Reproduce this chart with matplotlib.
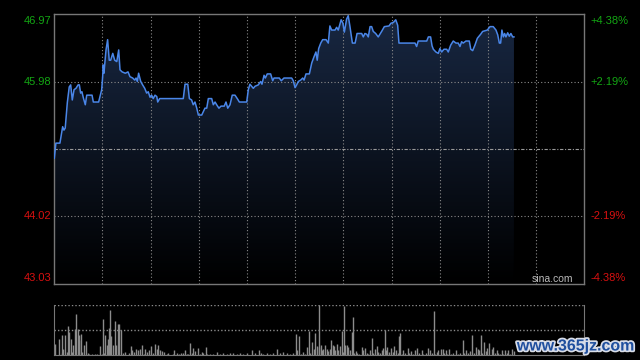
import numpy as np
import matplotlib.pyplot as plt
import matplotlib.patheffects as pe

# ---------------- DATA ----------------
prev_close = 45.00
y_low, y_high = 43.03, 46.97
session_minutes = 330

price_minute = [
    0, 1, 3.5, 5.2, 6.0, 6.8, 8.1, 9.3, 10.2, 11.2, 12.3, 13.5, 14.8, 15.6, 16.4, 17.2,
    18.1, 19.3, 20.2, 22.2, 23.5, 24.3, 27.6, 29.5, 30.1, 30.5, 30.9, 32.2, 33.2, 34.2,
    35.1, 36.4, 37.6, 38.9, 40.1, 40.9, 42.2, 44.2, 45.9, 47.1, 48.8, 50.1, 50.9, 51.7,
    52.5, 53.8, 55.0, 56.3, 57.5, 58.5, 59.6, 60.6, 61.6, 62.7, 63.8, 64.4, 65.6, 80.3,
    81.4, 83.1, 84.1, 85.5, 86.5, 87.6, 88.7, 89.7, 91.8, 93.8, 94.9, 95.9, 98.0, 99.0,
    100.1, 101.1, 102.5, 103.8, 105.8, 106.9, 108.0, 109.4, 110.8, 112.5, 114.2, 115.2,
    118.7, 119.8, 120.8, 121.8, 123.9, 125.0, 127.0, 128.5, 129.3, 130.6, 131.4, 132.6,
    134.7, 136.0, 136.8, 140.1, 141.3, 143.0, 147.8, 148.8, 149.9, 150.9, 151.9, 153.4,
    154.7, 155.5, 156.7, 158.8, 160.3, 161.7, 162.9, 163.7, 164.6, 165.9, 167.1, 169.2,
    170.6, 171.6, 172.7, 174.8, 175.8, 176.8, 178.6, 179.7, 180.6, 182.0, 183.0, 184.1,
    185.6, 187.3, 188.5, 191.4, 192.4, 193.4, 194.5, 195.5, 196.6, 197.6, 198.6, 200.1,
    201.7, 203.8, 205.5, 208.4, 209.6, 211.1, 212.6, 213.8, 214.6, 224.6, 225.6, 226.6,
    231.9, 232.9, 234.3, 235.2, 236.0, 237.6, 239.1, 240.1, 241.2, 242.6, 244.3, 245.3,
    246.8, 248.4, 250.1, 251.5, 252.6, 253.6, 254.6, 256.3, 258.4, 259.3, 260.5, 261.9,
    263.4, 265.5, 266.7, 269.6, 271.3, 273.3, 275.0, 276.1, 277.1, 277.9, 278.7, 279.6,
    280.4, 281.2, 282.3, 283.3, 284.3, 285.4, 286.2,
]
price = [
    44.87, 45.09, 45.09, 45.33, 45.28, 45.31, 45.68, 45.91, 45.94, 45.72, 45.87, 45.89, 45.94, 45.94, 45.82, 45.84,
    45.75, 45.65, 45.79, 45.79, 45.79, 45.69, 45.69, 45.87, 46.06, 46.23, 46.11, 46.45, 46.60, 46.30,
    46.30, 46.40, 46.30, 46.28, 46.45, 46.16, 46.13, 46.11, 46.13, 46.06, 46.04, 46.01, 46.04, 45.99,
    46.11, 45.99, 45.94, 45.89, 45.82, 45.84, 45.76, 45.79, 45.74, 45.79, 45.77, 45.69, 45.74, 45.74,
    45.95, 45.95, 45.74, 45.72, 45.65, 45.69, 45.60, 45.50, 45.50, 45.60, 45.60, 45.74, 45.74, 45.65,
    45.69, 45.65, 45.60, 45.63, 45.63, 45.69, 45.60, 45.65, 45.79, 45.79, 45.73, 45.69,
    45.69, 45.69, 45.87, 45.95, 45.89, 45.92, 45.94, 45.99, 45.95, 46.08, 46.04, 46.10,
    46.10, 46.00, 46.04, 46.04, 46.00, 46.04, 46.04, 46.00, 45.90, 45.94, 45.99, 46.01,
    46.04, 46.01, 46.10, 46.10, 46.26, 46.35, 46.42, 46.30, 46.47, 46.55, 46.60, 46.60,
    46.55, 46.80, 46.74, 46.74, 46.78, 46.74, 46.89, 46.84, 46.71, 46.90, 46.95, 46.79,
    46.55, 46.55, 46.69, 46.69, 46.64, 46.69, 46.68, 46.64, 46.79, 46.79, 46.72, 46.69,
    46.64, 46.72, 46.79, 46.80, 46.84, 46.85, 46.89, 46.81, 46.55, 46.55, 46.50, 46.58,
    46.58, 46.64, 46.64, 46.51, 46.46, 46.42, 46.40, 46.47, 46.42, 46.46, 46.46, 46.42,
    46.52, 46.58, 46.55, 46.55, 46.50, 46.57, 46.55, 46.58, 46.58, 46.46, 46.44, 46.52,
    46.62, 46.68, 46.72, 46.74, 46.79, 46.79, 46.74, 46.67, 46.55, 46.55, 46.74, 46.64,
    46.69, 46.64, 46.70, 46.65, 46.69, 46.64, 46.64,
]

vol_minute = [
    0.4, 3.1, 4.6, 5.0, 5.6, 6.9, 7.7, 8.7, 9.4, 10.2, 11.0, 11.9, 13.1, 13.7, 14.6, 15.2,
    15.6, 16.6, 17.5, 18.7, 19.9, 20.8, 21.8, 23.3, 24.3, 25.3, 26.4, 28.5, 29.5, 30.5,
    31.2, 31.8, 32.6, 33.2, 33.9, 34.7, 35.3, 36.6, 38.0, 38.6, 39.9, 40.5, 41.7, 43.0,
    44.0, 45.1, 46.3, 47.8, 48.6, 49.8, 50.9, 52.1, 53.4, 54.6, 55.9, 56.7, 57.9, 59.2,
    60.2, 61.7, 62.9, 63.7, 64.8, 65.8, 67.1, 68.3, 70.0, 71.0, 72.5, 73.7, 74.7, 76.2,
    77.4, 78.7, 79.9, 81.4, 82.4, 83.5, 84.5, 85.5, 86.6, 87.8, 89.7, 90.7, 91.8, 92.8,
    94.5, 95.3, 96.9, 99.0, 101.5, 103.2, 105.2, 107.3, 109.4, 111.5, 113.5, 115.6,
    117.7, 119.8, 122.9, 125.0, 127.6, 128.5, 130.1, 132.2, 134.3, 136.4, 138.4, 140.5,
    142.6, 144.7, 146.7, 148.8, 150.5, 151.3, 152.6, 153.6, 154.6, 156.3, 157.5, 158.4,
    159.2, 160.7, 161.7, 162.5, 163.3, 164.6, 165.0, 165.8, 166.5, 167.5, 168.5, 169.6,
    170.6, 171.7, 172.5, 173.3, 174.1, 174.8, 175.8, 176.8, 177.9, 178.9, 179.5, 180.6,
    181.2, 182.0, 183.1, 184.1, 185.1, 186.0, 186.8, 187.8, 188.7, 189.9, 191.4, 192.4,
    193.4, 194.5, 195.5, 196.6, 197.8, 198.6, 199.7, 200.7, 201.7, 202.8, 203.8, 204.9,
    205.7, 206.5, 207.3, 208.6, 209.6, 210.7, 211.7, 212.7, 213.8, 214.6, 215.2, 216.3,
    217.3, 218.3, 220.0, 221.0, 222.1, 223.1, 224.6, 226.0, 227.3, 228.7, 229.8, 231.4,
    232.9, 233.9, 235.0, 236.2, 237.0, 238.1, 239.1, 240.8, 241.8, 242.8, 243.9, 244.7,
    246.0, 247.2, 248.4, 250.1, 251.1, 252.6, 254.2, 255.3, 256.3, 257.4, 258.8, 260.3,
    261.3, 262.3, 263.6, 264.4, 265.5, 266.5, 267.5, 268.6, 269.6, 270.9, 272.3, 273.3,
    274.4, 275.4, 276.5, 277.5, 278.5, 279.6, 280.6, 281.6, 282.7, 283.7, 284.8, 286.2,
]
volume = [
    23, 32, 5, 40, 13, 40, 7, 58, 47, 32, 7, 20, 53, 83, 53, 40,
    30, 42, 7, 20, 28, 5, 3, 3, 1, 3, 3, 19, 3, 72,
    5, 40, 20, 33, 55, 90, 39, 20, 68, 20, 62, 62, 51, 5,
    7, 1, 5, 19, 10, 7, 12, 10, 12, 20, 3, 12, 7, 10,
    19, 5, 22, 13, 20, 10, 8, 7, 3, 5, 1, 3, 10, 5,
    3, 4, 5, 10, 3, 3, 25, 5, 15, 8, 15, 3, 7, 5,
    17, 3, 3, 3, 7, 3, 4, 3, 5, 4, 3, 4,
    3, 5, 10, 4, 11, 5, 3, 4, 3, 5, 12, 4,
    7, 5, 3, 4, 43, 11, 39, 3, 7, 3, 17, 48,
    5, 27, 12, 45, 18, 100, 17, 20, 10, 13, 20, 12,
    8, 13, 31, 20, 19, 10, 23, 10, 19, 48, 7, 99,
    21, 20, 17, 10, 47, 77, 5, 8, 5, 3, 17, 10,
    15, 5, 3, 10, 35, 5, 12, 19, 7, 5, 10, 15,
    51, 10, 17, 7, 15, 7, 19, 10, 5, 38, 45, 3,
    10, 5, 15, 5, 8, 3, 10, 15, 5, 10, 3, 5,
    15, 10, 5, 88, 3, 7, 10, 12, 13, 5, 10, 3,
    12, 3, 5, 10, 3, 5, 31, 5, 10, 5, 8, 40,
    5, 17, 13, 10, 41, 5, 27, 8, 15, 25, 12, 17,
    5, 11, 5, 3, 10, 3, 11, 5, 10, 3, 13, 8,
]

left_labels = ["46.97", "45.98", "44.02", "43.03"]
right_labels = ["+4.38%", "+2.19%", "-2.19%", "-4.38%"]
label_values = [46.97, 45.98, 44.02, 43.03]
label_colors = ["#13a613", "#13a613", "#d81010", "#d81010"]
label_valign = ["top", "center", "center", "bottom"]

# ---------------- FIGURE ----------------
fig = plt.figure(figsize=(6.4, 3.6), dpi=100, facecolor="black")
plt.rcParams["font.family"] = ["Liberation Sans", "DejaVu Sans"]

ax = fig.add_axes([54.3 / 640, 1 - 284.3 / 360, 530 / 640, 270 / 360])
ax.set_facecolor("black")
ax.set_xlim(0, session_minutes)
ax.set_ylim(y_low, y_high)

# gradient fill under the price line
grad = np.linspace(1, 0, 256).reshape(-1, 1)
top_col = np.array([0.095, 0.155, 0.26])
img = grad[..., None] * top_col[None, None, :]
im = ax.imshow(img, extent=[price_minute[0], price_minute[-1], y_low, y_high],
               aspect="auto", origin="upper", zorder=1)
poly = ax.fill_between(price_minute, price, y_low, color="none", lw=0)
clip = poly.get_paths()[0]
im.set_clip_path(clip, transform=ax.transData)

ax.plot(price_minute, price, color="#4a86e8", lw=1.1, zorder=3)

# grid
for m in range(30, session_minutes, 30):
    ax.axvline(m, color="#8a8a8a", lw=0.8, ls=(0, (1, 2)), zorder=2)
for v in [45.98, 44.02]:
    ax.axhline(v, color="#8a8a8a", lw=0.8, ls=(0, (1, 2)), zorder=2)
ax.axhline(prev_close, color="#9a9a9a", lw=0.8, ls=(0, (3, 1.5, 1, 1.5)), zorder=2)

for s in ax.spines.values():
    s.set_color("#777777")
    s.set_linewidth(1)
ax.set_xticks([])
ax.set_yticks([])

# axis labels on both sides (top one nudged down, bottom one nudged up)
ytrans = ax.get_yaxis_transform()
for v, l, r, c, va in zip(label_values, left_labels, right_labels, label_colors, label_valign):
    off = {"top": -0.006, "center": 0, "bottom": 0.006}[va]
    yv = v + off * (y_high - y_low)
    ax.text(-0.006, yv, l, transform=ytrans, ha="right", va=va, color=c, fontsize=8)
    ax.text(1.011, yv, r, transform=ytrans, ha="left", va=va, color=c, fontsize=8)

ax.text(0.98, 0.0, "sina.com", transform=ax.transAxes, ha="right", va="bottom",
        color="#bbbbbb", fontsize=7.5, zorder=4)

# ---------------- VOLUME ----------------
axv = fig.add_axes([54.3 / 640, 1 - 355 / 360, 530 / 640, 50 / 360])
axv.set_facecolor("black")
axv.set_xlim(0, session_minutes)
axv.set_ylim(0, 100)
axv.vlines(vol_minute, 0, volume, color="#8c8c8c", lw=1)
axv.axhline(100, color="#8a8a8a", lw=1, ls=(0, (1, 1.5)))
axv.axhline(50, color="#8a8a8a", lw=1, ls=(0, (1, 1.5)))
axv.spines["top"].set_visible(False)
for k in ["left", "right", "bottom"]:
    axv.spines[k].set_color("#777777")
axv.set_xticks([])
axv.set_yticks([])

fig.text(576 / 640, 1 - 346 / 360, "www.365jz.com", ha="center", va="center",
         fontsize=11.5, fontweight="bold", color="#1f4f9e",
         path_effects=[pe.withStroke(linewidth=2.5, foreground="#d8dde8")])

fig.savefig("out.png", dpi=100, facecolor="black")
